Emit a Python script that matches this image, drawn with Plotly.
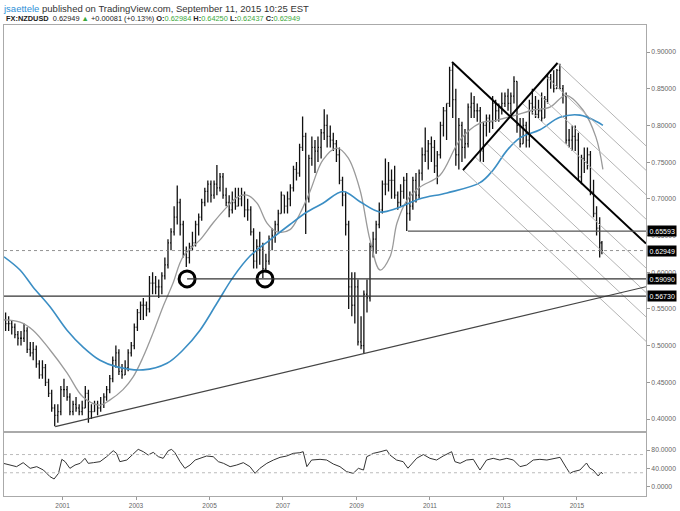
import plotly.graph_objects as go
import pandas as pd
import numpy as np

# ---------------- data (monthly OHLC, NZDUSD) ----------------
month_start = "1999-05-01"
high = [0.560,0.545,0.540,0.535,0.530,0.520,0.520,0.530,
        0.525,0.505,0.505,0.500,0.480,0.480,0.475,0.455,0.440,0.420,0.420,0.445,
        0.455,0.445,0.435,0.425,0.430,0.420,0.425,0.445,0.440,0.420,0.425,0.425,
        0.430,0.435,0.445,0.460,0.485,0.500,0.495,0.475,0.480,0.495,0.505,0.530,
        0.550,0.560,0.565,0.560,0.595,0.600,0.595,0.590,0.600,0.620,0.645,0.660,
        0.690,0.718,0.700,0.670,0.635,0.640,0.655,0.670,0.680,0.700,0.715,0.725,
        0.725,0.725,0.746,0.735,0.735,0.715,0.705,0.710,0.715,0.715,0.715,0.710,
        0.700,0.690,0.660,0.645,0.655,0.640,0.625,0.650,0.660,0.670,0.685,0.710,
        0.705,0.710,0.720,0.745,0.750,0.775,0.812,0.790,0.760,0.785,0.780,0.785,
        0.795,0.822,0.815,0.800,0.790,0.780,0.770,0.730,0.710,0.670,0.600,0.600,
        0.590,0.540,0.575,0.590,0.640,0.655,0.670,0.695,0.725,0.755,0.750,0.740,
        0.745,0.710,0.720,0.730,0.735,0.710,0.730,0.735,0.740,0.770,0.797,0.780,
        0.785,0.780,0.765,0.805,0.825,0.830,0.880,0.884,0.850,0.810,0.805,0.795,
        0.830,0.845,0.840,0.830,0.825,0.805,0.815,0.815,0.840,0.835,0.830,0.845,
        0.845,0.850,0.845,0.867,0.860,0.810,0.810,0.805,0.835,0.850,0.840,0.835,
        0.845,0.840,0.870,0.870,0.875,0.877,0.884,0.855,0.845,0.795,0.800,0.800,
        0.790,0.760,0.770,0.770,0.765,0.726,0.690,0.675,0.6425]
low = [0.530,0.520,0.520,0.515,0.510,0.500,0.500,0.505,
       0.490,0.485,0.480,0.470,0.455,0.455,0.445,0.430,0.410,0.390,0.395,0.405,
       0.430,0.425,0.405,0.405,0.410,0.405,0.405,0.415,0.395,0.400,0.410,0.405,
       0.410,0.415,0.425,0.435,0.450,0.470,0.460,0.455,0.460,0.465,0.485,0.495,
       0.520,0.535,0.535,0.540,0.545,0.570,0.570,0.565,0.570,0.590,0.605,0.630,
       0.650,0.665,0.650,0.620,0.607,0.612,0.630,0.635,0.650,0.670,0.690,0.695,
       0.695,0.700,0.705,0.710,0.700,0.690,0.675,0.680,0.685,0.690,0.690,0.675,
       0.670,0.650,0.605,0.605,0.610,0.592,0.600,0.610,0.630,0.640,0.655,0.680,
       0.680,0.680,0.690,0.710,0.725,0.730,0.765,0.652,0.695,0.745,0.735,0.750,
       0.755,0.780,0.770,0.770,0.765,0.750,0.720,0.690,0.650,0.550,0.540,0.530,
       0.500,0.495,0.490,0.545,0.560,0.620,0.625,0.660,0.680,0.705,0.710,0.700,
       0.700,0.685,0.690,0.700,0.656,0.670,0.685,0.695,0.700,0.725,0.750,0.740,
       0.750,0.735,0.720,0.755,0.785,0.780,0.825,0.810,0.745,0.740,0.750,0.755,
       0.770,0.810,0.810,0.805,0.750,0.750,0.785,0.790,0.795,0.805,0.805,0.815,
       0.825,0.820,0.815,0.830,0.790,0.770,0.775,0.770,0.770,0.815,0.810,0.810,
       0.805,0.810,0.830,0.850,0.845,0.850,0.850,0.830,0.775,0.770,0.765,0.765,
       0.725,0.720,0.735,0.740,0.705,0.675,0.650,0.620,0.62437]
close = [0.535,0.530,0.530,0.525,0.515,0.510,0.510,0.520,
         0.495,0.490,0.495,0.475,0.460,0.470,0.450,0.435,0.415,0.405,0.410,0.440,
         0.440,0.430,0.410,0.420,0.415,0.410,0.415,0.435,0.410,0.410,0.420,0.415,
         0.420,0.430,0.440,0.455,0.480,0.490,0.465,0.460,0.470,0.490,0.500,0.525,
         0.545,0.555,0.555,0.550,0.585,0.585,0.580,0.580,0.595,0.610,0.640,0.655,
         0.675,0.695,0.665,0.625,0.620,0.635,0.640,0.665,0.675,0.695,0.710,0.720,
         0.705,0.720,0.715,0.730,0.705,0.695,0.685,0.695,0.690,0.700,0.705,0.685,
         0.685,0.655,0.615,0.635,0.630,0.605,0.615,0.645,0.650,0.665,0.680,0.705,
         0.690,0.700,0.715,0.740,0.735,0.770,0.785,0.700,0.755,0.770,0.765,0.770,
         0.790,0.800,0.785,0.780,0.775,0.760,0.725,0.705,0.665,0.580,0.555,0.580,
         0.505,0.500,0.570,0.565,0.635,0.645,0.665,0.685,0.720,0.720,0.725,0.725,
         0.705,0.695,0.710,0.725,0.680,0.690,0.725,0.705,0.735,0.760,0.765,0.775,
         0.770,0.745,0.760,0.800,0.820,0.830,0.875,0.835,0.760,0.800,0.770,0.775,
         0.825,0.830,0.820,0.820,0.765,0.800,0.810,0.805,0.830,0.820,0.825,0.830,
         0.840,0.830,0.840,0.860,0.800,0.775,0.800,0.780,0.830,0.825,0.815,0.820,
         0.810,0.835,0.865,0.860,0.850,0.875,0.850,0.840,0.780,0.780,0.785,0.780,
         0.730,0.755,0.750,0.760,0.710,0.680,0.660,0.640,0.62949]
first_open = 0.545

# moving averages (decimal year, value)
ma_slow_year = [1999.408,1999.844,2000.197,2000.660,2001.122,2001.558,2002.020,2002.483,2003.190,
                2003.844,2004.279,2004.741,2005.204,2005.639,2006.102,2006.646,2007.190,2007.653,
                2008.088,2008.633,2009.095,2009.639,2010.102,2010.728,2011.463,2012.361,2012.714,
                2013.095,2013.449,2013.993,2014.537,2015.082,2015.544,2015.707]
ma_slow_val = [0.621,0.603,0.580,0.553,0.521,0.498,0.480,0.471,0.467,
               0.476,0.494,0.521,0.558,0.593,0.622,0.644,0.665,0.682,
               0.694,0.710,0.696,0.682,0.687,0.700,0.708,0.722,0.739,
               0.766,0.783,0.794,0.811,0.814,0.805,0.800]
ma_fast_year = [1999.408,1999.844,2000.197,2000.660,2001.122,2001.558,2002.020,2002.293,2002.646,
                2002.918,2003.190,2003.463,2003.735,2004.007,2004.279,2004.741,2005.095,2005.476,
                2005.748,2006.020,2006.293,2006.565,2006.837,2007.190,2007.463,2007.735,2008.088,
                2008.469,2008.769,2009.095,2009.367,2009.639,2009.912,2010.102,2010.374,2010.728,
                2011.272,2011.816,2012.361,2012.796,2013.340,2013.803,2014.265,2014.701,
                2015.163,2015.517,2015.707]
ma_fast_val = [0.535,0.532,0.521,0.494,0.463,0.430,0.419,0.426,0.440,
               0.457,0.484,0.517,0.553,0.585,0.621,0.644,0.667,0.689,
               0.702,0.705,0.694,0.667,0.655,0.658,0.680,0.710,0.753,
               0.769,0.756,0.712,0.644,0.603,0.621,0.667,0.698,0.716,
               0.732,0.780,0.803,0.807,0.814,0.821,0.825,0.841,
               0.821,0.784,0.740]

# RSI (decimal year, value)
rsi_year = [1999.39,1999.57,1999.75,1999.93,2000.12,2000.30,2000.48,2000.66,2000.77,2000.89,2000.98,
            2001.07,2001.20,2001.34,2001.48,2001.61,2001.70,2001.84,2002.02,2002.20,2002.38,2002.47,
            2002.56,2002.75,2002.93,2003.06,2003.20,2003.33,2003.47,2003.61,2003.74,2003.88,2003.97,
            2004.06,2004.20,2004.33,2004.47,2004.61,2004.74,2004.92,2005.10,2005.24,2005.38,2005.56,
            2005.74,2005.92,2006.10,2006.24,2006.37,2006.56,2006.74,2006.92,2007.10,2007.28,2007.46,
            2007.55,2007.65,2007.78,2008.01,2008.19,2008.37,2008.55,2008.73,2008.91,2009.05,2009.19,
            2009.28,2009.46,2009.64,2009.82,2009.91,2010.09,2010.27,2010.40,2010.64,2010.82,2011.00,
            2011.18,2011.36,2011.59,2011.68,2011.82,2012.00,2012.18,2012.36,2012.54,2012.72,2012.90,
            2013.09,2013.27,2013.45,2013.63,2013.81,2013.99,2014.18,2014.36,2014.54,2014.72,2014.81,
            2014.90,2015.08,2015.26,2015.35,2015.44,2015.58,2015.66,2015.70]
rsi_val = [50.7,47,43.4,52.2,39.7,43.4,36,21.4,16.3,28.7,59.5,
           54.4,39.7,47,50.7,61.7,50.7,52.2,54.4,65.3,78.5,72.7,
           54.4,58,72.7,81.5,76.3,69,74.9,65.3,61.7,78.5,81.5,
           74.1,54.4,39.7,47,58,61.7,66.8,65.3,54.4,50.7,43.4,
           47,52.2,43.4,28.7,39.7,50.7,58,63.9,66.8,72.7,74.1,
           76.3,43.4,58,59.5,58,49.2,43.4,32.4,28.7,39.7,36,
           65.3,72.7,76,80,69,58,54.4,40,62,70,61.7,
           58,66.8,76.3,54.4,50.7,58,59.5,36,58,61.7,58,
           61.7,58,43.4,47,58,59.5,58,61.7,63.9,39.7,28.7,
           32.4,36,51.4,40,36,22.9,31.6,27.3]

# drawing-tool anchors (decimal year, price)
support_lo = 0.56730
support_mid = 0.59090
support_hi = 0.65593
last_price = 0.62949
trend_pts = [(2000.80, 0.3897), (2009.19, 0.4891)]
fork_p1 = (2011.60, 0.8864)   # handle (median line start)
fork_p2 = (2011.90, 0.7392)   # lower tine
fork_p3 = (2014.47, 0.8850)   # upper tine
fork_levels = [0.25, 0.5, 0.75, 1.0]
circle_pts = [(1999.354, support_lo), (2004.39, support_mid), (2006.51, support_mid)]
hi_line_start = 2010.40
mid_line_start = 2004.39
x_tick_years = [2001, 2003, 2005, 2007, 2009, 2011, 2013, 2015]
price_ticks = [0.40, 0.45, 0.50, 0.55, 0.60, 0.65, 0.70, 0.75, 0.80, 0.85, 0.90]
rsi_ticks = [0, 40, 80]

# ---------------- helpers ----------------
X0, X1 = 1999.408, 2016.878
def d(y):
    yr = int(np.floor(y))
    base = pd.Timestamp(f"{yr}-01-01")
    days = (pd.Timestamp(f"{yr+1}-01-01") - base).days
    return base + pd.Timedelta(days=(y - yr) * days)

months = pd.date_range(month_start, periods=len(close), freq="MS")
bar_x = [m + pd.Timedelta(days=14) for m in months]
bar_x[-1] = pd.Timestamp("2015-09-06")
opens = [first_open] + close[:-1]

fig = go.Figure()
fig.add_trace(go.Ohlc(x=bar_x, open=opens, high=high, low=low, close=close,
                      increasing=dict(line=dict(color="#111", width=1.3)),
                      decreasing=dict(line=dict(color="#111", width=1.3)),
                      tickwidth=0.45, xaxis="x", yaxis="y", hoverinfo="skip"))

shapes = []
def seg(p0, p1, color, width, dash="solid"):
    shapes.append(dict(type="line", xref="x", yref="y", x0=d(p0[0]), y0=p0[1], x1=d(p1[0]), y1=p1[1],
                       line=dict(color=color, width=width, dash=dash), layer="above"))

# pitchfork: median from p1 through midpoint of p2-p3, parallel level lines from the base
mx, my = (fork_p2[0] + fork_p3[0]) / 2, (fork_p2[1] + fork_p3[1]) / 2
fslope = (my - fork_p1[1]) / (mx - fork_p1[0])
for k in fork_levels:
    for (qx, qy) in (fork_p2, fork_p3):
        sx, sy = mx + k * (qx - mx), my + k * (qy - my)
        seg((sx, sy), (X1, sy + fslope * (X1 - sx)), "#b4b4b4", 1)
seg(fork_p1, (X1, fork_p1[1] + fslope * (X1 - fork_p1[0])), "#000", 2)
seg(fork_p2, fork_p3, "#000", 2)

# trend line extended to right edge
(tx0, ty0), (tx1, ty1) = trend_pts
slope = (ty1 - ty0) / (tx1 - tx0)
seg((tx0, ty0), (X1, ty0 + slope * (X1 - tx0)), "#444", 1.2)
seg((X0, support_lo), (X1, support_lo), "#333", 1.2)
seg((mid_line_start, support_mid), (X1, support_mid), "#333", 1.2)
seg((hi_line_start, support_hi), (X1, support_hi), "#555", 1.2)
seg((X0, last_price), (X1, last_price), "#777", 0.8, "dot")
for lv in (70, 30):
    shapes.append(dict(type="line", xref="x2", yref="y2", x0=d(X0), x1=d(X1), y0=lv, y1=lv,
                       line=dict(color="#bbb", width=1, dash="dot")))

fig.add_trace(go.Scatter(x=[d(v) for v in ma_fast_year], y=ma_fast_val, mode="lines",
                         line=dict(color="#9a9a9a", width=1.3, shape="spline"), xaxis="x", yaxis="y"))
fig.add_trace(go.Scatter(x=[d(v) for v in ma_slow_year], y=ma_slow_val, mode="lines",
                         line=dict(color="#3b8ec4", width=1.6, shape="spline"), xaxis="x", yaxis="y"))
fig.add_trace(go.Scatter(x=[d(v) for v in rsi_year], y=rsi_val, mode="lines",
                         line=dict(color="#333", width=1), xaxis="x2", yaxis="y2"))
fig.add_trace(go.Scatter(x=[d(p[0]) for p in circle_pts], y=[p[1] for p in circle_pts], mode="markers",
                         marker=dict(symbol="circle-open", size=16, color="#000", line=dict(width=3, color="#000")),
                         cliponaxis=False, xaxis="x", yaxis="y"))

W, H = 680, 511
def px(x): return x / W
def py(y): return 1 - y / H

annotations = []
annotations.append(dict(xref="paper", yref="paper", x=px(1), y=py(1), xanchor="left", yanchor="top", showarrow=False,
                        text="<span style='color:#2f8fd6'>jsaettele</span> published on TradingView.com, September 11, 2015 10:25 EST",
                        font=dict(family="Liberation Sans, Arial", size=9.5, color="#333")))
g = "#3aa83a"
annotations.append(dict(xref="paper", yref="paper", x=px(4), y=py(11.5), xanchor="left", yanchor="top", showarrow=False,
                        text=(f"<b>FX:NZDUSD</b>  0.62949 <span style='color:{g}'>▲</span> +0.00081 (+0.13%) "
                              f"<b>O:</b><span style='color:{g}'>0.62984</span> <b>H:</b><span style='color:{g}'>0.64250</span> "
                              f"<b>L:</b><span style='color:{g}'>0.62437</span> <b>C:</b><span style='color:{g}'>0.62949</span>"),
                        font=dict(family="Liberation Sans, Arial", size=7.4, color="#222")))
for v in (support_hi, last_price, support_mid, support_lo):
    annotations.append(dict(xref="paper", yref="y", x=px(646.5), y=v, xanchor="left", yanchor="middle", showarrow=False,
                            text=f"{v:.5f}", bgcolor="#000", borderpad=1.5,
                            font=dict(family="Liberation Sans, Arial", size=7, color="#fff")))

axis_font = dict(family="Liberation Sans, Arial", size=6.8, color="#666")
fig.update_layout(
    width=W, height=H, margin=dict(l=0, r=0, t=0, b=0),
    paper_bgcolor="#ffffff", plot_bgcolor="#ffffff", showlegend=False,
    shapes=shapes, annotations=annotations,
    xaxis=dict(domain=[px(4), px(646)], range=[d(X0), d(X1)], showticklabels=False, showgrid=False,
               zeroline=False, showline=True, linecolor="#aaa", mirror=True, rangeslider=dict(visible=False),
               anchor="y"),
    yaxis=dict(domain=[py(432), py(25)], range=[0.3823, 0.9368], side="right", tickvals=price_ticks,
               tickformat=".5f", ticks="outside", ticklen=3, tickcolor="#999", tickfont=axis_font,
               showgrid=False, zeroline=False, showline=True, linecolor="#aaa", mirror=True, anchor="x"),
    xaxis2=dict(domain=[px(4), px(646)], range=[d(X0), d(X1)], tickvals=[d(y) for y in x_tick_years],
                ticktext=[str(y) for y in x_tick_years], ticks="outside", ticklen=3, tickcolor="#999",
                tickfont=dict(family="Liberation Sans, Arial", size=6.5, color="#666"), showgrid=False,
                zeroline=False, showline=True, linecolor="#aaa", mirror=True, anchor="y2"),
    yaxis2=dict(domain=[py(496), py(432)], range=[-21.1, 119.6], side="right", tickvals=rsi_ticks,
                tickformat=".4f", ticks="outside", ticklen=3, tickcolor="#999", tickfont=axis_font,
                showgrid=False, zeroline=False, showline=True, linecolor="#aaa", mirror=True, anchor="x2"),
)
fig.write_html("out.html")
